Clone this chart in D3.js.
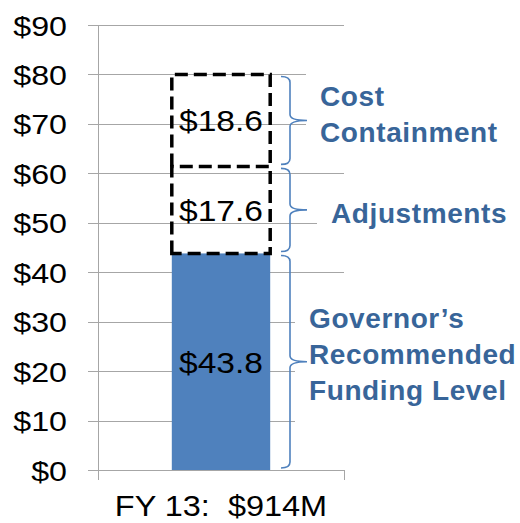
<!DOCTYPE html>
<html>
<head>
<meta charset="utf-8">
<script src="https://cdn.jsdelivr.net/npm/d3@7"></script>
<style>
  html, body { margin: 0; padding: 0; background: #fff; }
  svg { display: block; }
  text { font-family: "Liberation Sans", Arial, sans-serif; white-space: pre; }
</style>
</head>
<body>
<svg id="chart" width="520" height="523"></svg>
<script>
// ---- data ----
const categories = ["FY 13:  $914M"];
const segmentNames = ["Governor\u2019s Recommended Funding Level", "Adjustments", "Cost Containment"];
const segmentValues = [43.8, 17.6, 18.6];
const segmentLabels = ["$43.8", "$17.6", "$18.6"];
const segmentFilled = [true, false, false];
const braceLabelLines = [
  ["Governor\u2019s", "Recommended", "Funding Level"],
  ["Adjustments"],
  ["Cost", "Containment"]
];
const yTicks = [0, 10, 20, 30, 40, 50, 60, 70, 80, 90];

// ---- layout ----
const svg = d3.select("#chart");
const plotLeft = 98, plotRight = 344, plotTop = 25, plotBottom = 470;
const gridLeft = 88;
const barColor = "#4F81BD";
const labelColor = "#386599";
const gridColor = "#A6A6A6";

const y = d3.scaleLinear().domain([0, 90]).range([plotBottom, plotTop]);
const x = d3.scaleBand().domain(categories).range([plotLeft, plotRight])
  .paddingInner(0.6).paddingOuter(0.3);

// gridlines + y labels via axis
const yAxis = d3.axisLeft(y).tickValues(yTicks)
  .tickSizeInner(-(plotRight - gridLeft)).tickSizeOuter(0)
  .tickFormat(d => "$" + d);
const gy = svg.append("g").attr("transform", `translate(${gridLeft},0)`).call(yAxis);
gy.select(".domain").remove();
gy.selectAll(".tick line").attr("stroke", gridColor).attr("stroke-width", 1)
  .attr("shape-rendering", "crispEdges");
gy.selectAll(".tick text")
  .attr("x", null).attr("dy", null)
  .attr("transform", `translate(${67 - gridLeft},10) scale(1.15,1)`)
  .attr("text-anchor", "end")
  .attr("font-size", 28)
  .attr("fill", "#000");

// y axis vertical line
svg.append("line")
  .attr("x1", plotLeft).attr("x2", plotLeft)
  .attr("y1", plotTop).attr("y2", plotBottom + 10)
  .attr("stroke", gridColor).attr("shape-rendering", "crispEdges");
// right category boundary tick
svg.append("line")
  .attr("x1", plotRight).attr("x2", plotRight)
  .attr("y1", plotBottom).attr("y2", plotBottom + 10)
  .attr("stroke", gridColor).attr("shape-rendering", "crispEdges");

// white boxes behind the brace labels (hide gridlines like the original text boxes)
const boxes = [
  { x: 306, y0: 72, y1: 158 },
  { x: 317, y0: 198, y1: 232 },
  { x: 295, y0: 296, y1: 430 }
];
svg.selectAll("rect.box").data(boxes).join("rect")
  .attr("class", "box")
  .attr("x", d => d.x).attr("y", d => d.y0)
  .attr("width", d => 520 - d.x).attr("height", d => d.y1 - d.y0)
  .attr("fill", "#fff");

// stacked segments
let acc = 0;
const segs = segmentValues.map((v, i) => {
  const s = { i, v, y0: acc, y1: acc + v, label: segmentLabels[i], filled: segmentFilled[i], name: segmentNames[i] };
  acc += v;
  return s;
});
const bx = x(categories[0]), bw = x.bandwidth();

// filled segment
svg.selectAll("rect.seg").data(segs.filter(d => d.filled)).join("rect")
  .attr("class", "seg")
  .attr("x", bx).attr("width", bw)
  .attr("y", d => y(d.y1)).attr("height", d => y(d.y0) - y(d.y1))
  .attr("fill", barColor);

// dashed outline segments: lowest dashed is a closed box, the ones above are open at bottom
const dashed = segs.filter(d => !d.filled);
svg.selectAll("path.seg").data(dashed).join("path")
  .attr("class", "seg")
  .attr("d", (d, k) => {
    const t = y(d.y1), b = y(d.y0), l = bx, r = bx + bw;
    return k === 0
      ? `M${l},${b} L${l},${t} L${r},${t} L${r},${b} Z`
      : `M${l},${b} L${l},${t} L${r},${t} L${r},${b}`;
  })
  .attr("fill", "none")
  .attr("stroke", "#000")
  .attr("stroke-width", 3.5)
  .attr("stroke-dasharray", "13,6");

// value labels
svg.selectAll("text.val").data(segs).join("text")
  .attr("class", "val")
  .attr("transform", d => `translate(${bx + bw / 2},${(y(d.y0) + y(d.y1)) / 2 + 11}) scale(1.12,1)`)
  .attr("text-anchor", "middle")
  .attr("font-size", 30)
  .attr("fill", "#000")
  .text(d => d.label);

// braces
const bxEnd = 281, bxMid = 290, bxTip = 307, r = 6;
function bracePath(t, b) {
  const m = (t + b) / 2;
  return `M${bxEnd},${t} Q${bxMid},${t} ${bxMid},${t + r}` +
    ` L${bxMid},${m - r} Q${bxMid},${m} ${bxTip},${m}` +
    ` Q${bxMid},${m} ${bxMid},${m + r}` +
    ` L${bxMid},${b - r} Q${bxMid},${b} ${bxEnd},${b}`;
}
svg.selectAll("path.brace").data(segs).join("path")
  .attr("class", "brace")
  .attr("d", d => bracePath(y(d.y1) + 2, y(d.y0) - 2))
  .attr("fill", "none")
  .attr("stroke", barColor)
  .attr("stroke-width", 1.6);

// brace labels
const labelX = [309, 331, 320];
const labelAdj = [-7.5, 3, -6.5];
svg.selectAll("text.blab").data(segs).join("text")
  .attr("class", "blab")
  .attr("x", d => labelX[d.i])
  .attr("y", d => {
    const n = braceLabelLines[d.i].length;
    const m = (y(d.y0) + y(d.y1)) / 2;
    return m + 10 - (n - 1) * 18 + labelAdj[d.i];
  })
  .attr("font-size", 28)
  .attr("font-weight", "bold")
  .attr("letter-spacing", 0.6)
  .attr("fill", labelColor)
  .each(function (d) {
    const t = d3.select(this);
    const x0 = labelX[d.i];
    braceLabelLines[d.i].forEach((ln, k) => {
      t.append("tspan").attr("x", x0).attr("dy", k === 0 ? 0 : 36).text(ln);
    });
  });

// category label
svg.append("text")
  .attr("transform", `translate(${bx + bw / 2},${516}) scale(1.12,1)`)
  .attr("text-anchor", "middle")
  .attr("font-size", 29)
  .attr("fill", "#000")
  .text(categories[0]);
</script>
</body>
</html>
